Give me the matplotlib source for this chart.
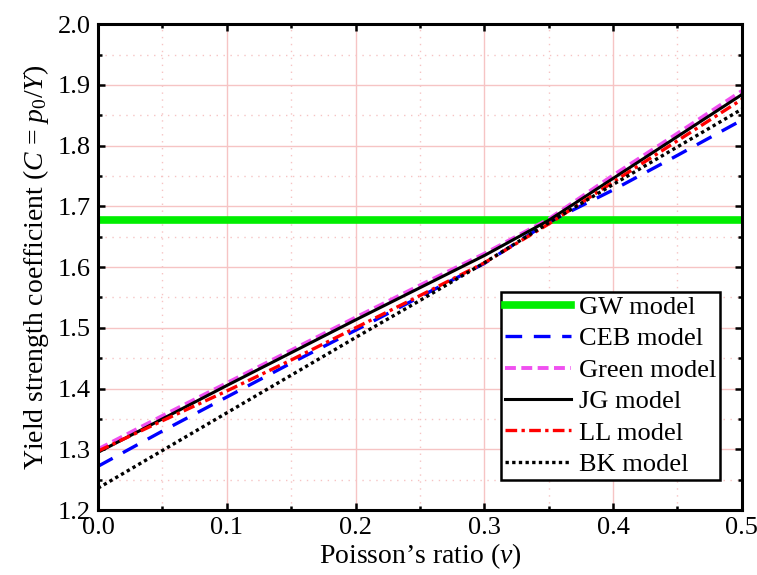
import numpy as np
import matplotlib
matplotlib.use("Agg")
import matplotlib.pyplot as plt
from matplotlib.ticker import MultipleLocator

plt.rcParams['font.family'] = ['Liberation Serif', 'DejaVu Serif']
plt.rcParams['mathtext.fontset'] = 'custom'
plt.rcParams['mathtext.rm'] = 'Liberation Serif'
plt.rcParams['mathtext.it'] = 'Liberation Serif:italic'

# Poisson's ratio samples
nu = [0.0, 0.05, 0.10, 0.15, 0.20, 0.25, 0.30, 0.35, 0.40, 0.45, 0.50]

# Yield strength coefficient C = p0/Y for each model
gw_value = 1.677
ceb = [1.272, 1.330, 1.386, 1.442, 1.496, 1.551, 1.606, 1.674, 1.727, 1.784, 1.842]
green = [1.300, 1.355, 1.409, 1.463, 1.517, 1.570, 1.622, 1.679, 1.751, 1.820, 1.890]
jg = [1.295, 1.350, 1.405, 1.459, 1.513, 1.566, 1.619, 1.677, 1.746, 1.815, 1.884]
ll = [1.297, 1.347, 1.396, 1.447, 1.500, 1.553, 1.607, 1.671, 1.740, 1.808, 1.876]
bk = [1.236, 1.298, 1.360, 1.422, 1.484, 1.545, 1.607, 1.673, 1.736, 1.798, 1.860]

fig = plt.figure(figsize=(7.57, 5.75), dpi=100)
ax = fig.add_axes([0.1295, 0.113, 0.8505, 0.845])

ax.axhline(gw_value, color='#00ee00', lw=5.5, label='GW model')
ax.plot(nu, ceb, color='#0000ff', lw=2.4, dashes=(5, 3.5), label='CEB model')
ax.plot(nu, green, color='#f050f0', lw=2.8, dashes=(2.8, 1.4), label='Green model')
ax.plot(nu, jg, color='black', lw=2.2, label='JG model')
ax.plot(nu, ll, color='#ff0000', lw=2.4, dashes=(3.5, 1.3, 1.0, 1.3), label='LL model')
ax.plot(nu, bk, color='black', lw=2.4, dashes=(1, 1), label='BK model')

ax.set_xlim(0, 0.5)
ax.set_ylim(1.2, 2.0)
ax.xaxis.set_major_locator(MultipleLocator(0.1))
ax.xaxis.set_minor_locator(MultipleLocator(0.05))
ax.yaxis.set_major_locator(MultipleLocator(0.1))
ax.yaxis.set_minor_locator(MultipleLocator(0.05))
ax.xaxis.set_major_formatter(plt.FormatStrFormatter('%.1f'))
ax.yaxis.set_major_formatter(plt.FormatStrFormatter('%.1f'))

ax.grid(which='major', color='#f6c4c4', lw=1.0, ls='-')
ax.grid(which='minor', color='#f6c4c4', lw=1.0, ls=(0, (1, 4)))
ax.set_axisbelow(True)

ax.tick_params(which='both', direction='in', top=True, right=True,
               labelsize=19, width=1.8, color='black')
ax.tick_params(which='major', length=5, pad=5)
ax.tick_params(which='minor', length=3)
for s in ax.spines.values():
    s.set_linewidth(2.2)

ax.set_xlabel("Poisson\u2019s ratio ($\\nu$)", fontsize=20, labelpad=2)
ax.set_ylabel("Yield strength coefficient ($C$ = $p_0$/$Y$)", fontsize=20, labelpad=5)

leg = ax.legend(loc='lower right', bbox_to_anchor=(0.966, 0.062), borderaxespad=0,
                fontsize=19, handlelength=2.5, handletextpad=0.3, labelspacing=0.3,
                borderpad=0.15, fancybox=False, framealpha=1, edgecolor='black')
leg.get_frame().set_linewidth(1.8)

fig.savefig("out.png", dpi=100)
